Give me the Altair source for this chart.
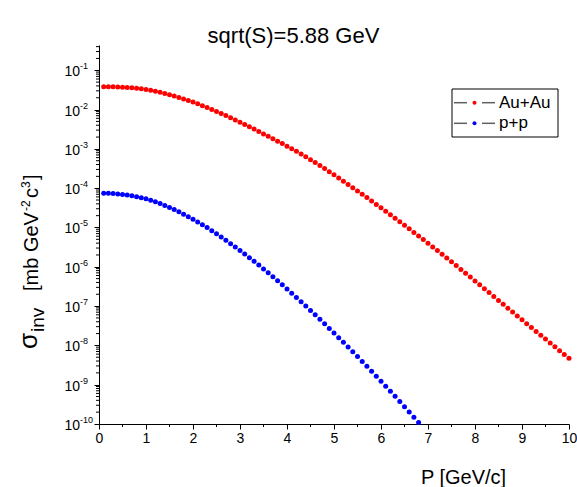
import altair as alt
import pandas as pd

# ---------------- data ----------------
p_auau = [0.1, 0.2, 0.3, 0.4, 0.5, 0.6, 0.7, 0.8, 0.9, 1.0,
          1.1, 1.2, 1.3, 1.4, 1.5, 1.6, 1.7, 1.8, 1.9, 2.0,
          2.1, 2.2, 2.3, 2.4, 2.5, 2.6, 2.7, 2.8, 2.9, 3.0,
          3.1, 3.2, 3.3, 3.4, 3.5, 3.6, 3.7, 3.8, 3.9, 4.0,
          4.1, 4.2, 4.3, 4.4, 4.5, 4.6, 4.7, 4.8, 4.9, 5.0,
          5.1, 5.2, 5.3, 5.4, 5.5, 5.6, 5.7, 5.8, 5.9, 6.0,
          6.1, 6.2, 6.3, 6.4, 6.5, 6.6, 6.7, 6.8, 6.9, 7.0,
          7.1, 7.2, 7.3, 7.4, 7.5, 7.6, 7.7, 7.8, 7.9, 8.0,
          8.1, 8.2, 8.3, 8.4, 8.5, 8.6, 8.7, 8.8, 8.9, 9.0,
          9.1, 9.2, 9.3, 9.4, 9.5, 9.6, 9.7, 9.8, 9.9, 10.0]

# log10 of sigma_inv for Au+Au
log_sigma_auau = [-1.417, -1.418, -1.420, -1.424, -1.429, -1.436, -1.445, -1.457, -1.472, -1.490,
                  -1.511, -1.535, -1.561, -1.590, -1.621, -1.654, -1.690, -1.728, -1.768, -1.810,
                  -1.854, -1.900, -1.947, -1.996, -2.046, -2.098, -2.151, -2.206, -2.262, -2.320,
                  -2.378, -2.437, -2.497, -2.557, -2.618, -2.679, -2.741, -2.803, -2.866, -2.930,
                  -2.996, -3.063, -3.132, -3.203, -3.275, -3.349, -3.425, -3.502, -3.581, -3.660,
                  -3.740, -3.821, -3.903, -3.986, -4.070, -4.154, -4.239, -4.325, -4.412, -4.500,
                  -4.588, -4.676, -4.765, -4.854, -4.944, -5.034, -5.125, -5.216, -5.308, -5.400,
                  -5.494, -5.588, -5.683, -5.778, -5.874, -5.970, -6.067, -6.164, -6.262, -6.360,
                  -6.459, -6.558, -6.657, -6.756, -6.855, -6.954, -7.053, -7.152, -7.251, -7.350,
                  -7.448, -7.546, -7.644, -7.742, -7.840, -7.938, -8.036, -8.134, -8.232, -8.330]

p_pp = [0.1, 0.2, 0.3, 0.4, 0.5, 0.6, 0.7, 0.8, 0.9, 1.0,
        1.1, 1.2, 1.3, 1.4, 1.5, 1.6, 1.7, 1.8, 1.9, 2.0,
        2.1, 2.2, 2.3, 2.4, 2.5, 2.6, 2.7, 2.8, 2.9, 3.0,
        3.1, 3.2, 3.3, 3.4, 3.5, 3.6, 3.7, 3.8, 3.9, 4.0,
        4.1, 4.2, 4.3, 4.4, 4.5, 4.6, 4.7, 4.8, 4.9, 5.0,
        5.1, 5.2, 5.3, 5.4, 5.5, 5.6, 5.7, 5.8, 5.9, 6.0,
        6.1, 6.2, 6.3, 6.4, 6.5, 6.6, 6.7, 6.8]

# log10 of sigma_inv for p+p
log_sigma_pp = [-4.127, -4.130, -4.136, -4.146, -4.159, -4.175, -4.195, -4.218, -4.243, -4.270,
                -4.306, -4.346, -4.390, -4.438, -4.490, -4.544, -4.602, -4.662, -4.724, -4.790,
                -4.858, -4.929, -5.003, -5.080, -5.160, -5.242, -5.326, -5.411, -5.497, -5.585,
                -5.675, -5.767, -5.861, -5.957, -6.055, -6.154, -6.255, -6.357, -6.460, -6.565,
                -6.671, -6.779, -6.888, -6.998, -7.110, -7.223, -7.337, -7.452, -7.568, -7.685,
                -7.803, -7.922, -8.042, -8.163, -8.285, -8.408, -8.532, -8.657, -8.783, -8.910,
                -9.038, -9.167, -9.297, -9.428, -9.560, -9.693, -9.827, -9.962]

series_names = ["Au+Au", "p+p"]
series_colors = ["#ff0000", "#0000ff"]

x_ticks = [0, 1, 2, 3, 4, 5, 6, 7, 8, 9, 10]
x_minor_ticks = [0.5, 1.5, 2.5, 3.5, 4.5, 5.5, 6.5, 7.5, 8.5, 9.5]
y_tick_exponents = [-10, -9, -8, -7, -6, -5, -4, -3, -2, -1]
y_top = 0.44

chart_title = "sqrt(S)=5.88 GeV"
x_title = "P [GeV/c]"
y_title_parts = ["\u03c3", "inv", "[mb GeV", "-2", "c", "3", "]"]

# ---------------- build tables ----------------
rows = []
for p, l in zip(p_auau, log_sigma_auau):
    rows.append({"P": p, "sigma": 10 ** l, "series": series_names[0]})
for p, l in zip(p_pp, log_sigma_pp):
    rows.append({"P": p, "sigma": 10 ** l, "series": series_names[1]})
df = pd.DataFrame(rows)

y_major = [10.0 ** e for e in y_tick_exponents]
y_minor = [m * 10.0 ** e for e in y_tick_exponents for m in range(2, 10)]
y_minor = [v for v in y_minor if v <= y_top]
df_ylab = pd.DataFrame({"sigma": y_major, "base": ["10"] * len(y_major),
                        "exp": [str(e) for e in y_tick_exponents]})

FONT = "Liberation Sans"
W, H = 470, 379

xscale = alt.Scale(domain=[0, 10], nice=False, zero=False)
yscale = alt.Scale(type="log", domain=[1e-10, y_top], nice=False)

x_axis = alt.Axis(
    values=x_ticks, tickSize=5, format="d", labelFont=FONT, labelFontSize=14,
    labelColor="black", labelPadding=2, labelFlush=False, grid=False,
    domainColor="black", tickColor="black",
    title=x_title, titleFont=FONT, titleFontSize=20, titleFontWeight="normal",
    titleColor="black", titleX=364, titleY=59, titleBaseline="alphabetic",
    titleAlign="center")
y_axis = alt.Axis(
    values=y_major, labels=False, tickSize=5, title=None, grid=False,
    domainColor="black", tickColor="black")

points = alt.Chart(df).mark_circle(size=25, opacity=1).encode(
    x=alt.X("P:Q", scale=xscale, axis=x_axis),
    y=alt.Y("sigma:Q", scale=yscale, axis=y_axis),
    color=alt.Color("series:N", scale=alt.Scale(domain=series_names, range=series_colors),
                    legend=None),
)

y_minor_rules = alt.Chart(pd.DataFrame({"sigma": y_minor})).mark_rule(
    color="black", strokeWidth=1).encode(
    y=alt.Y("sigma:Q", scale=yscale, axis=y_axis),
    x=alt.value(-3), x2=alt.value(0))

x_minor_rules = alt.Chart(pd.DataFrame({"P": x_minor_ticks})).mark_rule(
    color="black", strokeWidth=1).encode(
    x=alt.X("P:Q", scale=xscale, axis=x_axis),
    y=alt.value(H), y2=alt.value(H + 3))

ylab_base = alt.Chart(df_ylab).mark_text(
    align="right", baseline="middle", font=FONT, fontSize=14, dy=2, color="black").encode(
    y=alt.Y("sigma:Q", scale=yscale, axis=y_axis), x=alt.value(-19), text="base:N")
ylab_exp = alt.Chart(df_ylab).mark_text(
    align="left", baseline="middle", font=FONT, fontSize=9, dy=-4, color="black").encode(
    y=alt.Y("sigma:Q", scale=yscale, axis=y_axis), x=alt.value(-19), text="exp:N")

title_layer = alt.Chart(pd.DataFrame({"t": [chart_title]})).mark_text(
    align="center", baseline="alphabetic", font=FONT, fontSize=22, color="black").encode(
    x=alt.value(194.5), y=alt.value(-2), text="t:N")

# rotated y title pieces: (fontSize, baseline x, start y)
ytitle_style = [(26, -62, 304), (19, -55, 287), (20, -61, 246),
                (12, -69, 166), (20, -61, 153), (12, -69, 143), (20, -61, 135)]
ytitle_layers = []
for part, (fs, xx, yy) in zip(y_title_parts, ytitle_style):
    ytitle_layers.append(
        alt.Chart(pd.DataFrame({"t": [part]})).mark_text(
            angle=270, align="left", baseline="alphabetic", font=FONT, fontSize=fs,
            color="black").encode(x=alt.value(xx), y=alt.value(yy), text="t:N"))

# legend box
legend_layers = [
    alt.Chart(pd.DataFrame({"a": [0]})).mark_rect(
        fill="white", stroke="black", strokeWidth=1).encode(
        x=alt.value(353), x2=alt.value(459), y=alt.value(44), y2=alt.value(92))
]
for i, (name, col) in enumerate(zip(series_names, series_colors)):
    yy = 57.7 + i * 20.6
    one = pd.DataFrame({"t": [name]})
    legend_layers.append(alt.Chart(one).mark_rule(color="#606060", strokeWidth=1.5).encode(
        x=alt.value(355), x2=alt.value(368), y=alt.value(yy)))
    legend_layers.append(alt.Chart(one).mark_rule(color="#606060", strokeWidth=1.5).encode(
        x=alt.value(383), x2=alt.value(396), y=alt.value(yy)))
    legend_layers.append(alt.Chart(one).mark_circle(size=16, color=col, opacity=1).encode(
        x=alt.value(375.5), y=alt.value(yy)))
    legend_layers.append(alt.Chart(one).mark_text(
        align="left", baseline="middle", font=FONT, fontSize=17, color="black").encode(
        x=alt.value(400), y=alt.value(yy), text="t:N"))

chart = alt.layer(
    points, y_minor_rules, x_minor_rules, ylab_base, ylab_exp, title_layer,
    *ytitle_layers, *legend_layers
).properties(
    width=W, height=H,
    padding={"left": 99, "top": 45, "right": 8, "bottom": 63},
    autosize=alt.AutoSizeParams(type="none"),
    background="white",
).configure_view(stroke=None).configure_axis(domainWidth=1, tickWidth=1)

chart.save("out.html", embed_options={"renderer": "svg", "actions": False})
